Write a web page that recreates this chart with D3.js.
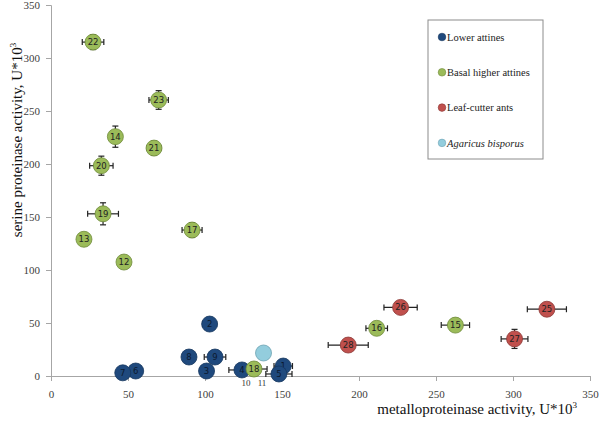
<!DOCTYPE html>
<html><head><meta charset="utf-8">
<script src="https://cdn.jsdelivr.net/npm/d3@7"></script>
<style>body{margin:0;background:#fff}svg{display:block}</style>
</head><body><svg id="c" width="600" height="433"></svg>
<script>
// ---- data ----
const ids    = ["1","2","3","4","5","6","7","8","9","12","13","14","15","16","17","18","19","20","21","22","23","25","26","27","28",""];
const groups = ["lower","lower","lower","lower","lower","lower","lower","lower","lower",
                "basal","basal","basal","basal","basal","basal","basal","basal","basal","basal","basal","basal",
                "leaf","leaf","leaf","leaf","agaricus"];
const metallo = [150.8,103,101,124,148,55,46.6,89.6,106.5, 47.4,21.4,41.8,262.6,211.5,91.6,131.8,33.8,32.7,66.9,27.3,69.9, 322,227,301,193, 138];
const serine  = [9.4,49,4.7,5.7,1.9,4.7,3,17.9,17.9, 107.5,129,225.8,48,45,137.7,6.6,153,198.4,215,315,260.4, 63,64.7,35,29.2, 21.7];
const xErr    = [6,4.5,0,8.5,8.5,0,0,0,7, 0,0,0,9.2,7,6.5,8.5,10,7.6,4.5,7,6.3, 12.7,10.8,8.7,13, 0];
const yErr    = [0,0,0,0,0,0,0,0,0, 0,0,10,0,0,7,0,10.4,9,6.6,7,8.8, 0,0,9,0, 0];
const extraIds = ["10","11"];
const extraX   = [126.6,137];
const legendKeys  = ["lower","basal","leaf","agaricus"];
const legendNames = ["Lower attines","Basal higher attines","Leaf-cutter ants","Agaricus bisporus"];
const colors      = ["#1f497d","#9bbb59","#c0504d","#93cddd"];
const strokes     = ["#17375e","#6f8a3a","#8c3836","#6fa3b3"];
const ticks = [0,50,100,150,200,250,300,350];

// ---- chart ----
const svg = d3.select("#c");
const x = d3.scaleLinear().domain([0,350]).range([51,590]);
const y = d3.scaleLinear().domain([0,350]).range([376,5]);
const col = d3.scaleOrdinal().domain(legendKeys).range(colors);
const stk = d3.scaleOrdinal().domain(legendKeys).range(strokes);
const serif = "'Liberation Serif','Times New Roman',serif";

const xAxis = svg.append("g").attr("transform",`translate(0,${y(0)})`)
  .call(d3.axisBottom(x).tickValues(ticks).tickSize(5).tickPadding(9));
const yAxis = svg.append("g").attr("transform",`translate(${x(0)},0)`)
  .call(d3.axisLeft(y).tickValues(ticks).tickSize(5).tickPadding(6));
[xAxis,yAxis].forEach(a=>{
  a.select(".domain").attr("stroke","#a6a6a6");
  a.selectAll(".tick line").attr("stroke","#a6a6a6");
  a.selectAll(".tick text").attr("font-family",serif).attr("font-size",11).attr("fill","#404040");
});

const data = ids.map((id,i)=>({id,g:groups[i],x:metallo[i],y:serine[i],xe:xErr[i],ye:yErr[i]}));

// error bars
const eb = svg.append("g").attr("stroke","#222").attr("stroke-width",1.2);
const cap = 3;
data.forEach(d=>{
  if(d.xe>0){
    const x0=x(d.x-d.xe), x1=x(d.x+d.xe), yy=y(d.y);
    eb.append("line").attr("x1",x0).attr("x2",x1).attr("y1",yy).attr("y2",yy);
    eb.append("line").attr("x1",x0).attr("x2",x0).attr("y1",yy-cap).attr("y2",yy+cap);
    eb.append("line").attr("x1",x1).attr("x2",x1).attr("y1",yy-cap).attr("y2",yy+cap);
  }
  if(d.ye>0){
    const y0=y(d.y-d.ye), y1=y(d.y+d.ye), xx=x(d.x);
    eb.append("line").attr("x1",xx).attr("x2",xx).attr("y1",y0).attr("y2",y1);
    eb.append("line").attr("x1",xx-cap).attr("x2",xx+cap).attr("y1",y0).attr("y2",y0);
    eb.append("line").attr("x1",xx-cap).attr("x2",xx+cap).attr("y1",y1).attr("y2",y1);
  }
});

// points
const pts = svg.append("g");
data.forEach(d=>{
  pts.append("circle").attr("cx",x(d.x)).attr("cy",y(d.y)).attr("r",8)
    .attr("fill",col(d.g)).attr("stroke",stk(d.g)).attr("stroke-width",0.8);
  if(d.id) pts.append("text").attr("x",x(d.x)).attr("y",y(d.y)).attr("dy","0.35em")
    .attr("text-anchor","middle").attr("font-family","'DejaVu Sans',sans-serif").attr("font-size",8.5)
    .attr("fill", d.g==="lower" ? "#0c1a30" : "#222").text(d.id);
});

// labels 10, 11 below axis
extraIds.forEach((t,i)=>{
  svg.append("text").attr("x",x(extraX[i])).attr("y",y(0)+10).attr("text-anchor","middle")
    .attr("font-family",serif).attr("font-size",9).attr("fill","#333").text(t);
});

// axis titles
const xt = svg.append("text").attr("x",577).attr("y",414).attr("text-anchor","end")
  .attr("font-family",serif).attr("font-size",15).attr("fill","#111");
xt.append("tspan").text("metalloproteinase activity, U*10");
xt.append("tspan").attr("font-size",9).attr("dy",-6).text("3");

const yt = svg.append("text").attr("transform","translate(22,140) rotate(-90)").attr("text-anchor","middle")
  .attr("font-family",serif).attr("font-size",15).attr("fill","#111");
yt.append("tspan").text("serine proteinase activity, U*10");
yt.append("tspan").attr("font-size",9).attr("dy",-6).text("3");

// legend
const lg = svg.append("g");
lg.append("rect").attr("x",428).attr("y",20).attr("width",115).attr("height",139)
  .attr("fill","#fff").attr("stroke","#8c8c8c").attr("stroke-width",1);
legendKeys.forEach((k,i)=>{
  const ly = 37 + i*35.3;
  lg.append("circle").attr("cx",442).attr("cy",ly).attr("r",3.8).attr("fill",col(k)).attr("stroke",stk(k)).attr("stroke-width",0.6);
  lg.append("text").attr("x",447).attr("y",ly).attr("dy","0.35em")
    .attr("font-family",serif).attr("font-size",10.5).attr("fill","#222")
    .attr("font-style", k==="agaricus" ? "italic" : "normal").text(legendNames[i]);
});
</script>
</body></html>
